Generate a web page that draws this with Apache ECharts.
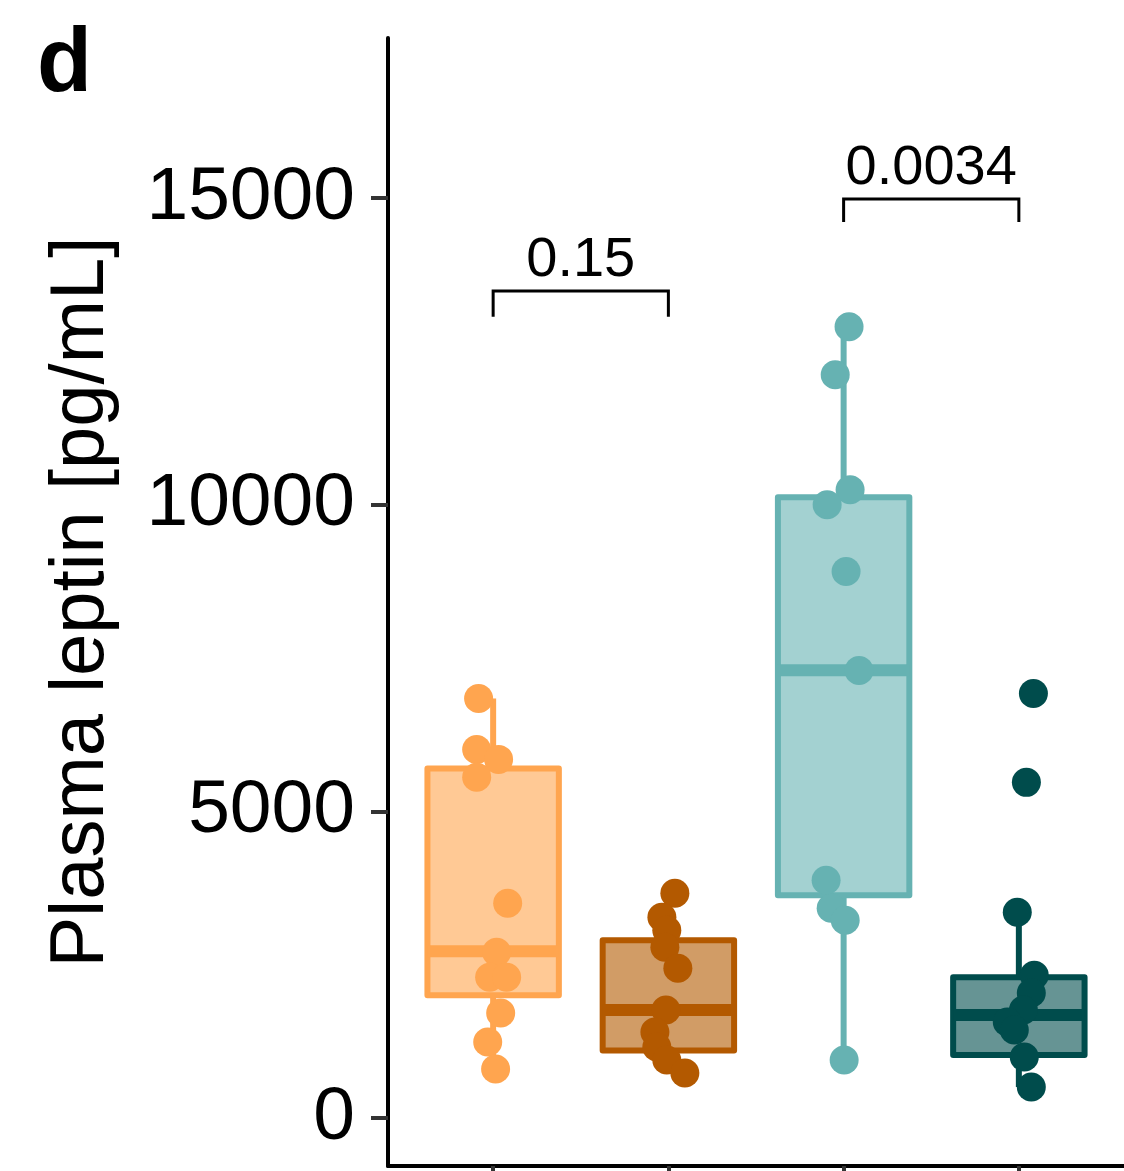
<!DOCTYPE html>
<html><head><meta charset="utf-8">
<script src="https://cdn.jsdelivr.net/npm/echarts@6/dist/echarts.min.js"></script>
<style>html,body{margin:0;padding:0;background:#fff}#c{width:1124px;height:1171px}</style>
</head><body><div id="c"></div>
<script>
// ---- data ----
const groups = ['Group 1', 'Group 2', 'Group 3', 'Group 4'];
const yTicks = [0, 5000, 10000, 15000];
const yAxisTitle = 'Plasma leptin [pg/mL]';
const panelLabel = 'd';

// individual points (values) and horizontal jitter (category units)
const g1Values = [6840, 6010, 5847, 5554, 3502, 2704, 2296, 2296, 1710, 1238, 798];
const g1Jitter = [-0.083, -0.094, 0.031, -0.094, 0.083, 0.02, -0.02, 0.077, 0.043, -0.031, 0.014];
const g2Values = [3664, 3274, 3062, 2785, 2443, 1759, 1401, 1156, 945, 733];
const g2Jitter = [0.037, -0.037, -0.009, -0.02, 0.054, -0.014, -0.077, -0.066, -0.009, 0.094];
const g3Values = [12899, 12117, 10244, 10000, 8909, 7296, 3876, 3420, 3225, 945];
const g3Jitter = [0.031, -0.048, 0.037, -0.094, 0.014, 0.088, -0.1, -0.071, 0.009, 0.003];
const g4Values = [6922, 5472, 3355, 2329, 2036, 1759, 1564, 1433, 993, 505];
const g4Jitter = [0.083, 0.043, -0.009, 0.088, 0.071, 0.026, -0.066, -0.026, 0.031, 0.071];

// box statistics
const boxLow    = [798, 733, 945, 505];
const boxQ1     = [2003, 1100, 3632, 1026];
const boxMedian = [2720, 1759, 7300, 1678];
const boxQ3     = [5700, 2899, 10120, 2296];
const boxHigh   = [6840, 3664, 12899, 3355];

// significance brackets
const pLabels = ['0.15', '0.0034'];
const pFrom   = [1, 3];
const pTo     = [2, 4];
const pLineY  = [13485, 14984];
const pTipY   = [13062, 14609];

// ---- styling ----
const strokeColors = ['#FFA54F', '#B35900', '#66B2B2', '#004C4C'];
const fillColors   = ['#FFC995', '#D19C66', '#A3D1D1', '#669494'];
const FONT = 'Liberation Sans';

const allValues = [g1Values, g2Values, g3Values, g4Values];
const allJitter = [g1Jitter, g2Jitter, g3Jitter, g4Jitter];

const boxData = groups.map((g, i) => [i + 1, boxLow[i], boxQ1[i], boxMedian[i], boxQ3[i], boxHigh[i]]);
const bracketData = pLabels.map((l, i) => [pFrom[i], pTo[i], pLineY[i], pTipY[i]]);

const series = [];
series.push({
  type: 'custom',
  z: 2,
  data: boxData,
  renderItem: function (params, api) {
    const i = params.dataIndex;
    const x = api.value(0);
    const half = 0.375;
    const pL = api.coord([x - half, api.value(4)]);
    const pR = api.coord([x + half, api.value(2)]);
    const pC = api.coord([x, 0]);
    const yLow = api.coord([x, api.value(1)])[1];
    const yQ1 = api.coord([x, api.value(2)])[1];
    const yMed = api.coord([x, api.value(3)])[1];
    const yQ3 = api.coord([x, api.value(4)])[1];
    const yHigh = api.coord([x, api.value(5)])[1];
    const stroke = strokeColors[i];
    const ls = { stroke: stroke, lineWidth: 6, lineCap: 'butt' };
    return {
      type: 'group',
      children: [
        { type: 'line', shape: { x1: pC[0], y1: yHigh, x2: pC[0], y2: yQ3 }, style: ls },
        { type: 'line', shape: { x1: pC[0], y1: yQ1, x2: pC[0], y2: yLow }, style: ls },
        { type: 'rect', shape: { x: pL[0], y: yQ3, width: pR[0] - pL[0], height: yQ1 - yQ3 },
          style: { fill: fillColors[i], stroke: stroke, lineWidth: 6, lineJoin: 'round' } },
        { type: 'line', shape: { x1: pL[0], y1: yMed, x2: pR[0], y2: yMed },
          style: { stroke: stroke, lineWidth: 12, lineCap: 'butt' } }
      ]
    };
  }
});

groups.forEach((g, i) => {
  series.push({
    type: 'scatter',
    z: 3,
    symbol: 'circle',
    symbolSize: 29,
    itemStyle: { color: strokeColors[i], opacity: 1 },
    data: allValues[i].map((v, k) => [i + 1 + allJitter[i][k], v])
  });
});

series.push({
  type: 'custom',
  z: 4,
  data: bracketData,
  renderItem: function (params, api) {
    const i = params.dataIndex;
    const a = api.coord([api.value(0), api.value(2)]);
    const b = api.coord([api.value(1), api.value(2)]);
    const tip = api.coord([api.value(0), api.value(3)])[1];
    return {
      type: 'group',
      children: [
        { type: 'polyline', shape: { points: [[a[0], tip], [a[0], a[1]], [b[0], b[1]], [b[0], tip]] },
          style: { fill: null, stroke: '#000', lineWidth: 3 } },
        { type: 'text', x: (a[0] + b[0]) / 2, y: a[1] - 2,
          style: { text: pLabels[i], font: '56px "' + FONT + '"', fill: '#000', align: 'center', verticalAlign: 'bottom' } }
      ]
    };
  }
});

const chart = echarts.init(document.getElementById('c'), null, { renderer: 'canvas' });
chart.setOption({
  animation: false,
  backgroundColor: '#fff',
  grid: { left: 388, right: 0, top: 38, bottom: 5, containLabel: false },
  xAxis: {
    type: 'value', min: 0.4, max: 4.6,
    axisLine: { show: true, onZero: false, lineStyle: { color: '#000', width: 4 } },
    axisTick: { show: true, customValues: [1, 2, 3, 4], length: 16, lineStyle: { color: '#333', width: 4 } },
    axisLabel: { show: false },
    splitLine: { show: false }
  },
  yAxis: {
    type: 'value', min: -783, max: 17609,
    name: yAxisTitle, nameLocation: 'middle', nameGap: 268,
    nameTextStyle: { fontSize: 76, fontFamily: FONT, color: '#000' },
    axisLine: { show: true, onZero: false, lineStyle: { color: '#000', width: 4 } },
    axisTick: { show: true, customValues: yTicks, length: 17, lineStyle: { color: '#333', width: 4 } },
    axisLabel: { show: true, customValues: yTicks, fontSize: 75, fontFamily: FONT, color: '#000', margin: 33,
      formatter: function (v) { return String(v); } },
    splitLine: { show: false }
  },
  graphic: [
    { type: 'text', left: 37, top: 21, style: { text: panelLabel, font: 'bold 90px "' + FONT + '"', fill: '#000' } }
  ],
  series: series
});
</script>
</body></html>
